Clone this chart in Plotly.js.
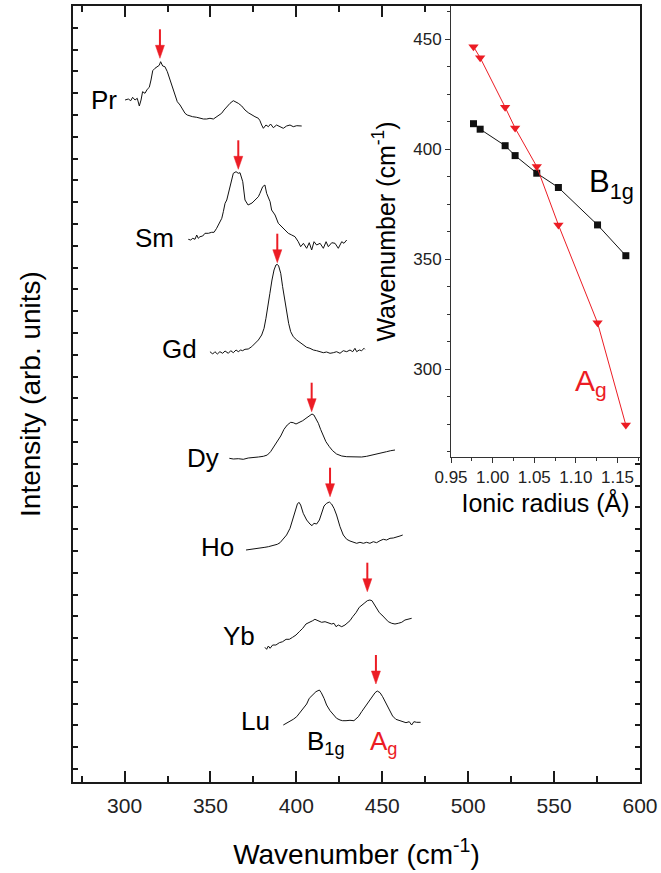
<!DOCTYPE html>
<html>
<head>
<meta charset="utf-8">
<script src="https://cdn.plot.ly/plotly-3.0.1.min.js"></script>
<style>
  html, body { margin: 0; padding: 0; background: #fff; }
  #chart { width: 661px; height: 873px; }
</style>
</head>
<body>
<div id="chart"></div>
<script>
// ---------------- Raman spectra (wavenumber, intensity in arb. units incl. vertical offset) ----------------
const prX = [300.3,302.2,303.6,304.7,306.1,307.4,308.6,309.6,310.5,311.9,313.2,314.4,315.4,316.4,317.7,319.1,320.2,321.0,322.2,323.5,324.9,326.5,328.0,329.4,330.7,332.3,333.8,335.2,336.5,338.1,339.6,342.0,343.9,345.9,347.8,349.7,351.7,353.6,355.2,356.5,357.9,359.4,361.4,363.3,364.9,366.2,368.2,370.1,372.0,374.0,375.9,377.9,378.8,379.8,380.8,382.3,383.7,385.0,386.6,388.5,390.5,392.4,394.3,396.3,398.2,400.2,403.1];
const prY = [682.0,683.0,681.3,684.7,682.0,683.7,676.0,682.0,690.3,688.7,692.7,694.7,702.0,711.3,713.7,715.3,716.7,720.3,716.0,715.3,710.3,702.0,693.7,685.3,680.3,677.0,672.0,668.7,667.0,666.0,665.3,664.7,663.7,663.0,663.0,663.7,663.0,665.3,667.0,668.7,672.0,675.3,678.7,681.3,680.3,678.7,676.0,672.0,669.3,667.0,665.3,663.7,661.3,657.0,653.7,657.0,655.3,658.0,654.3,657.0,655.3,653.7,656.0,657.0,655.3,656.3,656.0];

const smX = [337.1,338.5,339.7,341.0,342.0,342.9,343.9,345.5,346.8,348.8,350.7,352.1,353.6,355.2,356.6,357.5,358.5,359.5,361.4,363.3,364.9,366.2,367.2,368.8,370.1,371.9,374.2,375.9,377.9,378.8,380.4,381.7,382.7,384.3,384.7,385.6,387.6,389.5,391.5,393.4,395.3,397.3,399.2,401.1,402.5,404.1,406.0,407.5,408.9,410.3,411.8,413.8,415.7,417.3,418.6,420.6,422.5,424.4,426.4,427.7,429.3];
const smY = [542.7,542.0,543.7,542.7,547.0,543.7,545.3,546.0,548.7,548.7,549.7,549.7,553.7,558.7,563.7,570.3,578.7,582.0,595.3,608.7,610.3,608.7,609.3,600.3,582.0,577.0,579.0,582.0,585.3,588.7,595.3,597.0,588.7,582.0,580.3,572.0,567.0,558.7,555.3,552.0,548.7,547.0,545.3,540.3,535.3,538.7,533.7,539.3,532.0,540.3,537.0,538.7,533.7,540.3,535.3,539.3,538.7,533.7,540.3,538.7,542.0];

const gdX = [349.7,351.3,352.6,354.0,355.5,357.1,358.5,360.4,361.8,363.3,364.9,366.2,367.6,368.7,370.1,372.0,374.0,375.9,377.9,379.8,381.2,382.3,383.5,384.6,385.8,387.0,388.1,388.9,389.7,390.9,392.0,393.2,394.3,395.5,396.7,398.2,400.2,402.1,404.0,406.0,407.9,409.9,411.8,413.8,415.7,417.6,419.6,421.5,423.4,425.4,427.3,429.3,431.2,432.8,434.1,435.1,436.6,438.0,439.4,439.9];
const gdY = [430.3,428.0,430.3,428.0,430.3,428.7,431.0,428.7,431.3,429.3,432.0,430.3,432.0,431.3,432.7,433.0,435.3,438.7,442.0,447.0,453.7,463.7,475.3,488.7,502.0,512.0,517.0,517.7,516.0,508.7,495.3,482.0,468.7,458.7,450.3,445.3,442.0,439.3,437.0,434.7,433.7,432.0,431.3,430.3,429.3,430.0,428.7,429.3,430.3,428.7,431.3,430.3,432.0,430.3,433.7,430.3,432.0,431.3,433.7,432.7];

const dyX = [361.0,363.3,366.2,369.1,372.0,375.0,377.9,380.8,383.1,385.0,387.0,388.9,390.9,392.8,394.7,396.7,398.2,399.8,401.7,403.7,405.6,407.5,409.1,410.2,411.4,412.8,414.1,415.7,417.2,419.2,421.1,423.4,426.4,429.3,432.2,435.1,438.0,440.9,443.8,446.7,449.6,452.5,454.9,456.4,457.4];
const dyY = [323.7,323.0,323.3,322.7,324.0,324.3,325.0,325.7,327.0,330.3,335.3,340.3,346.0,352.7,357.0,359.7,359.3,358.0,359.3,361.3,363.7,366.0,368.0,367.0,363.7,358.7,352.7,346.0,340.3,335.3,331.3,328.0,326.0,325.3,325.0,324.7,325.0,325.7,326.7,328.0,329.3,330.3,331.3,332.0,332.0];

const hoX = [370.7,374.0,376.9,379.8,381.7,383.7,386.6,388.9,390.5,392.4,394.3,396.3,397.8,399.2,400.6,401.5,402.5,404.0,406.0,407.9,409.1,410.2,411.8,413.4,414.7,416.1,417.6,419.2,420.5,421.9,423.4,425.4,427.3,429.3,431.2,433.1,435.1,437.0,439.0,440.9,442.8,444.8,446.7,448.7,450.6,452.5,454.5,456.4,458.4,460.3,461.9];
const hoY = [232.0,232.7,233.0,233.7,234.7,235.3,236.3,237.7,239.3,242.7,247.0,253.7,262.0,270.3,278.0,279.7,277.0,268.7,262.0,258.0,256.3,258.7,258.0,262.0,269.3,276.0,278.7,280.0,278.0,273.7,267.0,255.3,247.0,242.7,241.0,239.7,238.7,239.7,238.7,239.7,238.7,240.3,239.3,241.3,242.7,242.0,243.7,244.0,244.7,246.0,247.0];

const ybX = [381.7,382.7,383.7,384.7,386.2,388.1,390.1,392.0,394.0,395.9,397.8,399.8,401.7,403.7,405.6,407.5,409.5,410.8,412.8,414.7,416.7,418.6,420.5,421.9,423.1,424.4,426.4,428.3,429.7,431.2,432.8,434.7,436.6,438.6,439.9,441.3,442.8,444.0,445.2,446.7,448.3,449.8,451.6,453.5,455.5,457.4,459.3,461.3,463.2,465.2,467.1];
const ybY = [134.7,132.7,136.0,133.7,137.0,137.0,139.3,140.3,142.7,142.7,144.7,147.0,150.3,153.7,158.0,159.3,161.3,162.7,161.0,159.7,160.3,159.3,158.0,158.7,155.3,157.0,155.3,157.0,159.3,161.3,165.3,169.3,174.7,178.0,179.3,181.3,182.0,181.3,178.0,172.7,169.3,167.0,163.7,160.3,158.7,158.0,158.7,159.7,162.0,162.7,163.7];

const luX = [392.4,394.3,396.3,398.2,400.2,402.1,404.0,406.0,407.5,409.5,411.4,413.4,414.5,416.1,417.6,419.6,421.5,423.4,425.4,426.9,428.9,431.2,433.5,436.1,438.0,440.0,441.9,443.8,445.8,447.1,448.7,450.2,452.2,454.1,456.0,457.9,459.9,461.9,463.8,465.7,467.1,468.4,470.0,472.3];
const luY = [57.0,58.7,60.3,62.7,65.3,69.3,73.7,78.0,83.7,87.0,90.3,92.0,89.3,83.7,77.0,71.3,67.0,63.7,62.0,61.3,61.3,61.7,61.3,65.3,70.3,75.3,80.3,85.3,89.3,91.0,89.3,85.3,78.7,72.0,66.0,62.7,61.3,60.3,59.3,60.3,57.0,60.3,59.7,59.7];

const sampleNames = ['Pr','Sm','Gd','Dy','Ho','Yb','Lu'];
// A_g peak positions marked with arrows (wavenumber, intensity at arrow tip)
const arrowX = [320.6, 366.2, 388.9, 408.9, 419.6, 441.3, 446.3];
const arrowY = [723.7, 612.7, 519.3, 370.3, 285.3, 190.3, 98.0];

// ---------------- Inset: mode frequency vs. ionic radius ----------------
const ionicRadius = [0.977, 0.985, 1.015, 1.027, 1.053, 1.079, 1.126, 1.160];
const b1gFreq = [411.5, 409.0, 401.5, 397.0, 389.0, 382.5, 365.5, 351.5];
const agFreq  = [446.5, 441.5, 419.0, 409.5, 392.0, 365.5, 321.0, 274.5];

// ---------------- build figure ----------------
const RED = '#ec1c24';
const FONT = 'Arial, "Liberation Sans", Helvetica, sans-serif';
const spectra = [[prX,prY],[smX,smY],[gdX,gdY],[dyX,dyY],[hoX,hoY],[ybX,ybY],[luX,luY]];

const traces = spectra.map((s, i) => ({
  type: 'scatter', mode: 'lines', x: s[0], y: s[1], name: sampleNames[i],
  line: {color: '#111', width: 1}, xaxis: 'x', yaxis: 'y', hoverinfo: 'skip'
}));
traces.push({
  type: 'scatter', mode: 'lines+markers', x: ionicRadius, y: b1gFreq, name: 'B1g',
  xaxis: 'x2', yaxis: 'y2', line: {color: '#111', width: 1},
  marker: {symbol: 'square', size: 7, color: '#111'}
});
traces.push({
  type: 'scatter', mode: 'lines+markers', x: ionicRadius, y: agFreq, name: 'Ag',
  xaxis: 'x2', yaxis: 'y2', line: {color: RED, width: 1},
  marker: {symbol: 'triangle-down', size: 9, color: RED}
});

// label placement (layout only)
const labelPos = [[297,682],[330,544],[343.3,433],[356.1,324],[364.9,235],[377.1,146],[385.8,61]];
const annotations = sampleNames.map((n, i) => ({
  text: n, x: labelPos[i][0], y: labelPos[i][1], xref: 'x', yref: 'y',
  xanchor: 'right', yanchor: 'middle', showarrow: false,
  font: {family: FONT, size: 26, color: '#000'}
}));
annotations.push({text: 'B<sub>1g</sub>', x: 405, y: 40, xref: 'x', yref: 'y', xanchor: 'left', yanchor: 'middle',
  showarrow: false, font: {family: FONT, size: 26, color: '#000'}});
annotations.push({text: 'A<sub>g</sub>', x: 441.7, y: 40, xref: 'x', yref: 'y', xanchor: 'left', yanchor: 'middle',
  showarrow: false, font: {family: FONT, size: 26, color: RED}});
annotations.push({text: 'B<sub>1g</sub>', x: 1.113, y: 384, xref: 'x2', yref: 'y2', xanchor: 'left', yanchor: 'middle',
  showarrow: false, font: {family: FONT, size: 31, color: '#000'}});
annotations.push({text: 'A<sub>g</sub>', x: 1.097, y: 294, xref: 'x2', yref: 'y2', xanchor: 'left', yanchor: 'middle',
  showarrow: false, font: {family: FONT, size: 30, color: RED}});

const shapes = [];
arrowX.forEach((ax, i) => {
  shapes.push({type: 'line', xref: 'x', yref: 'y', xsizemode: 'pixel', ysizemode: 'pixel',
    xanchor: ax, yanchor: arrowY[i], x0: 0, x1: 0, y0: 10, y1: 29,
    line: {color: RED, width: 2}});
  shapes.push({type: 'path', xref: 'x', yref: 'y', xsizemode: 'pixel', ysizemode: 'pixel',
    xanchor: ax, yanchor: arrowY[i], path: 'M-4.5,13 L4.5,13 L0,0 Z',
    fillcolor: RED, line: {color: RED, width: 0.5}});
});

const layout = {
  width: 661, height: 873,
  margin: {l: 73, r: 21, t: 6, b: 91},
  paper_bgcolor: '#fff', plot_bgcolor: '#fff',
  showlegend: false,
  font: {family: FONT, color: '#000'},
  xaxis: {
    domain: [0, 1], anchor: 'y', range: [270, 600], tick0: 300, dtick: 50,
    ticks: 'inside', ticklen: 11, tickwidth: 2, tickcolor: '#1a1a1a',
    minor: {dtick: 25, ticks: 'inside', ticklen: 6, tickwidth: 2, tickcolor: '#1a1a1a'},
    showline: true, linewidth: 2, linecolor: '#1a1a1a', mirror: 'allticks',
    showgrid: false, zeroline: false, ticklabelstandoff: 4,
    tickfont: {family: FONT, size: 21, color: '#222'},
    title: {text: 'Wavenumber (cm<sup>-1</sup>)', font: {family: FONT, size: 28, color: '#000'}, standoff: 28}
  },
  yaxis: {
    domain: [0, 1], anchor: 'x', range: [0, 776], tick0: 13, dtick: 21.8,
    ticks: 'inside', ticklen: 5, tickwidth: 2, tickcolor: '#1a1a1a',
    showticklabels: false,
    showline: true, linewidth: 2, linecolor: '#1a1a1a', mirror: 'allticks',
    showgrid: false, zeroline: false,
    title: {text: 'Intensity (arb. units)', font: {family: FONT, size: 28, color: '#000'}, standoff: 22}
  },
  xaxis2: {
    domain: [0.6667, 1], anchor: 'y2', range: [0.95, 1.177], tick0: 0.95, dtick: 0.05, tickformat: '.2f',
    ticks: 'outside', ticklen: 5, tickwidth: 1, tickcolor: '#333',
    minor: {dtick: 0.025, ticks: 'outside', ticklen: 3, tickwidth: 1, tickcolor: '#333'},
    showline: true, linewidth: 1, linecolor: '#333', mirror: false,
    showgrid: false, zeroline: false,
    tickfont: {family: FONT, size: 17, color: '#222'},
    title: {text: 'Ionic radius (Å)', font: {family: FONT, size: 25, color: '#000'}, standoff: 8}
  },
  yaxis2: {
    domain: [0.4188, 1], anchor: 'x2', range: [260, 465], tick0: 300, dtick: 50,
    ticks: 'outside', ticklen: 5, tickwidth: 1, tickcolor: '#333',
    minor: {dtick: 12.5, ticks: 'outside', ticklen: 3, tickwidth: 1, tickcolor: '#333'},
    showline: true, linewidth: 1, linecolor: '#333', mirror: false,
    showgrid: false, zeroline: false,
    tickfont: {family: FONT, size: 17, color: '#222'},
    title: {text: 'Wavenumber (cm<sup>-1</sup>)', font: {family: FONT, size: 25, color: '#000'}, standoff: 10}
  },
  annotations: annotations,
  shapes: shapes
};

Plotly.newPlot('chart', traces, layout, {staticPlot: true, displayModeBar: false});
</script>
</body>
</html>
